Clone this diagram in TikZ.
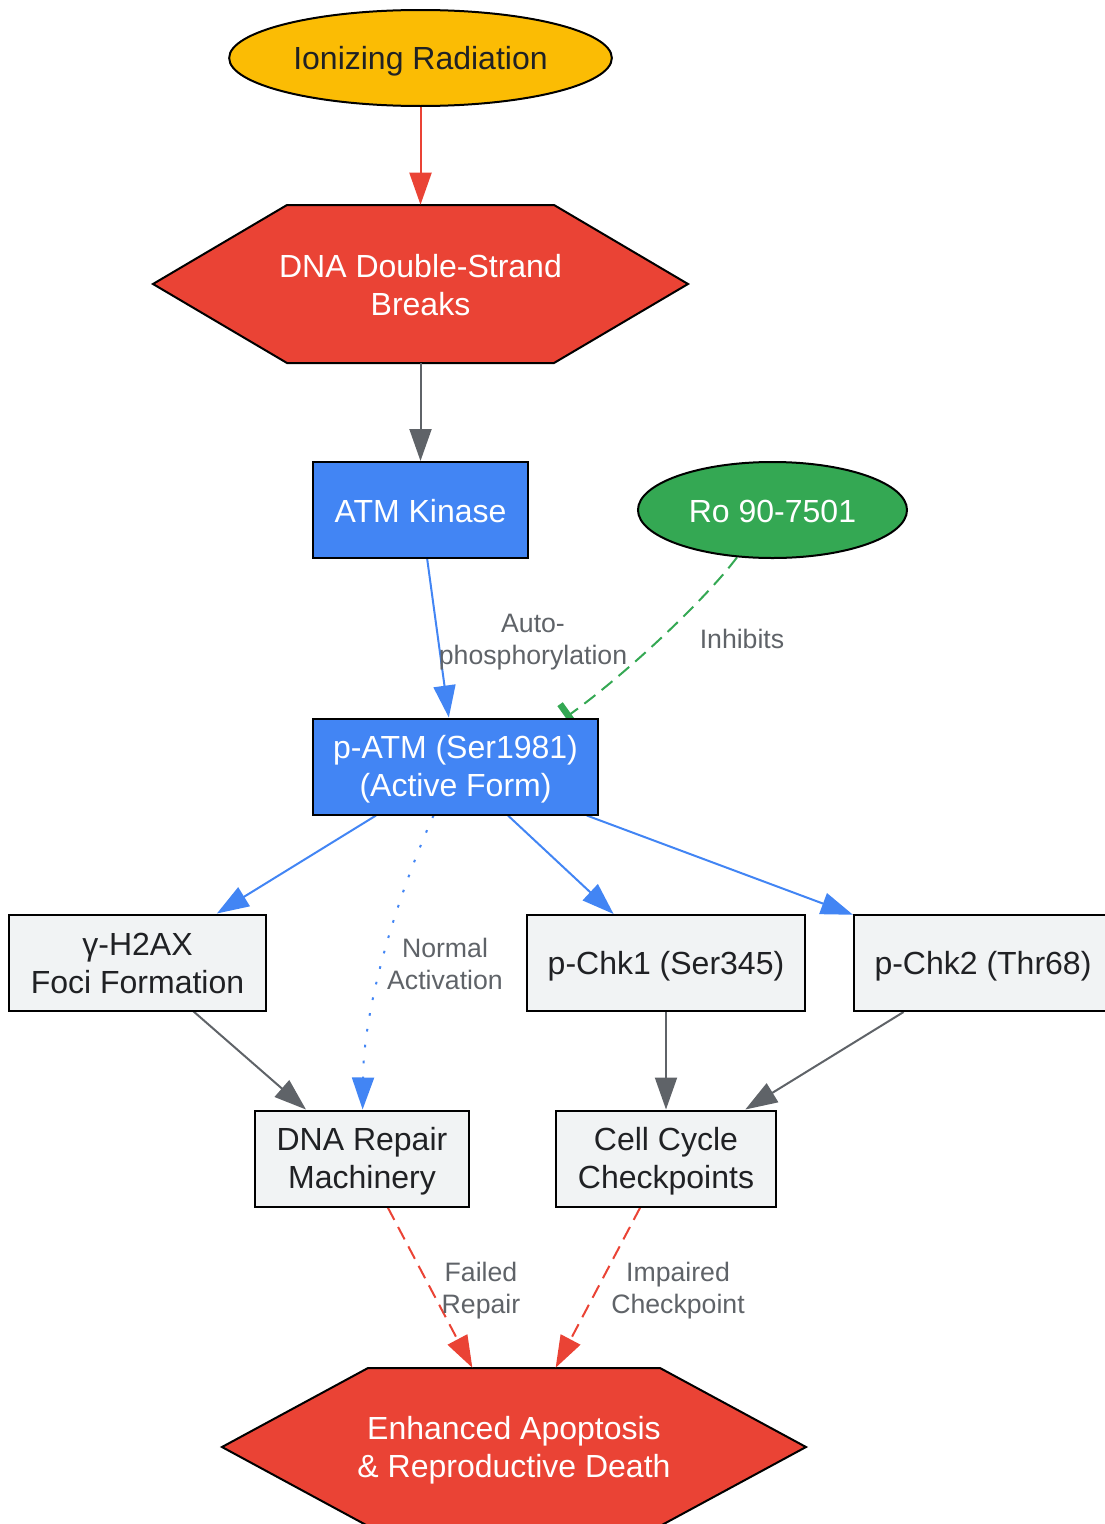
\documentclass[tikz,border=0pt]{standalone}
\usepackage{fontspec}
\setmainfont{Liberation Sans}
\usepackage{tikz}
\usetikzlibrary{shapes.geometric}
\usetikzlibrary{calc}
\usetikzlibrary{arrows.meta}
\pgfdeclarelayer{nodelayer}
\pgfdeclarelayer{edgelayer}
\pgfsetlayers{edgelayer,nodelayer,main}
\definecolor{gyellow}{HTML}{FBBC04}
\definecolor{gred}{HTML}{EA4335}
\definecolor{gblue}{HTML}{4285F4}
\definecolor{ggreen}{HTML}{34A853}
\definecolor{ggrey}{HTML}{5F6368}
\definecolor{gpale}{HTML}{F1F3F4}
\definecolor{gink}{HTML}{202124}
\newcommand{\nodefont}{\fontsize{24}{28.5}\selectfont}
\newcommand{\lblfont}{\fontsize{20}{24}\selectfont}
\newcommand{\ns}{\rule[-4pt]{0pt}{26pt}}
\newcommand{\ls}{\rule[-4.2pt]{0pt}{23pt}}
\tikzset{box/.style={shape=rectangle, draw=black, line width=1.5pt, inner sep=0pt,
minimum height=72pt, align=center, font=\nodefont}}
\tikzset{pale/.style={box, fill=gpale, text=gink}}
\tikzset{kin/.style={box, fill=gblue, text=white}}
\tikzset{oval/.style={shape=ellipse, draw=black, line width=1.5pt, inner sep=0pt,
minimum height=72pt, font=\nodefont}}
\tikzset{hex/.style={draw=black, line width=1.5pt, fill=gred}}
\tikzset{hextext/.style={inner sep=0pt, minimum height=118.5pt, align=center, text=white, font=\nodefont}}
\tikzstyle{none}=[inner sep=0pt, align=center, text=ggrey, font=\lblfont]
\tikzset{arr/.style={line width=1.5pt, -{Triangle[length=24pt, width=16.5pt]}}}
\tikzset{tee/.style={line width=1.5pt, -{Bar[width=21pt, line width=5pt]}}}
\tikzset{broken/.style={dash pattern=on 10.5pt off 6pt}}
\tikzset{dotty/.style={dash pattern=on 2pt off 10pt}}

\begin{document}
\begin{tikzpicture}[x=0.75pt, y=-0.75pt]
        \begin{pgfonlayer}{nodelayer}
            \node [style=oval, fill=gyellow, text=gink, minimum width=287pt] (0) at (420.5, 58) {\ns Ionizing Radiation};
            \node [style=hextext, minimum width=200pt] (1) at (420.5, 284) {\ns DNA Double-Strand\\Breaks\ns};
            \node [style=kin, minimum width=161pt] (2) at (420.5, 510) {\ns ATM Kinase};
            \node [style=oval, fill=ggreen, text=white, minimum width=201.75pt] (3) at (772.5, 510) {\ns Ro 90-7501};
            \node [style=kin, minimum width=213.75pt] (4) at (455.5, 766.5) {\ns p-ATM (Ser1981)\\(Active Form)\ns};
            \node [style=pale, minimum width=192.75pt] (5) at (137.5, 962.5) {\ns γ-H2AX\\Foci Formation\ns};
            \node [style=pale, minimum width=208.5pt] (6) at (666, 963) {\ns p-Chk1 (Ser345)};
            \node [style=pale, minimum width=193.5pt] (7) at (983, 963) {\ns p-Chk2 (Thr68)};
            \node [style=pale, minimum width=160.5pt] (8) at (362, 1158.5) {\ns DNA Repair\\Machinery\ns};
            \node [style=pale, minimum width=165pt] (9) at (666, 1158.5) {\ns Cell Cycle\\Checkpoints\ns};
            \node [style=hextext, minimum width=219pt] (10) at (514, 1447) {\ns Enhanced Apoptosis\\\& Reproductive Death\ns};
            \node [style=none] (11) at (533, 639) {\ls Auto-\\phosphorylation\ls};
            \node [style=none] (12) at (742, 639) {\ls Inhibits};
            \node [style=none] (13) at (445, 964) {\ls Normal\\Activation\ls};
            \node [style=none] (14) at (481, 1288) {\ls Failed\\Repair\ls};
            \node [style=none] (15) at (678, 1288) {\ls Impaired\\Checkpoint\ls};
        \end{pgfonlayer}
        \begin{pgfonlayer}{edgelayer}
            \filldraw [style=hex] ($(1)+(-133.5,-79)$) -- ++(267,0) -- ++(134,79) -- ++(-134,79) -- ++(-267,0) -- ++(-134,-79) -- cycle;
            \filldraw [style=hex] ($(10)+(-146,-79)$) -- ++(292,0) -- ++(146,79) -- ++(-146,79) -- ++(-292,0) -- ++(-146,-79) -- cycle;
            \draw [style=arr, gred] (0) to (1);
            \draw [style=arr, ggrey] (1) to (2);
            \draw [style=arr, gblue] (2) to (4);
            \draw [style=tee, ggreen, broken] (3) .. controls (705, 600) and (625, 675) .. ($(4.north)+(110, 0)$);
            \draw [style=arr, gblue] (4) to (5);
            \draw [style=arr, gblue, dotty] (4) .. controls (400, 890) and (364, 1000) .. (8);
            \draw [style=arr, gblue] (4) to (6);
            \draw [style=arr, gblue] (4) to (7);
            \draw [style=arr, ggrey] (5) to (8);
            \draw [style=arr, ggrey] (6) to (9);
            \draw [style=arr, ggrey] (7) to (9);
            \draw [style=arr, gred, broken] (8) to (10);
            \draw [style=arr, gred, broken] (9) to (10);
        \end{pgfonlayer}
        \pgfresetboundingbox
        \useasboundingbox (0, 0) rectangle (1104, 1524);
    \end{tikzpicture}
\end{document}
